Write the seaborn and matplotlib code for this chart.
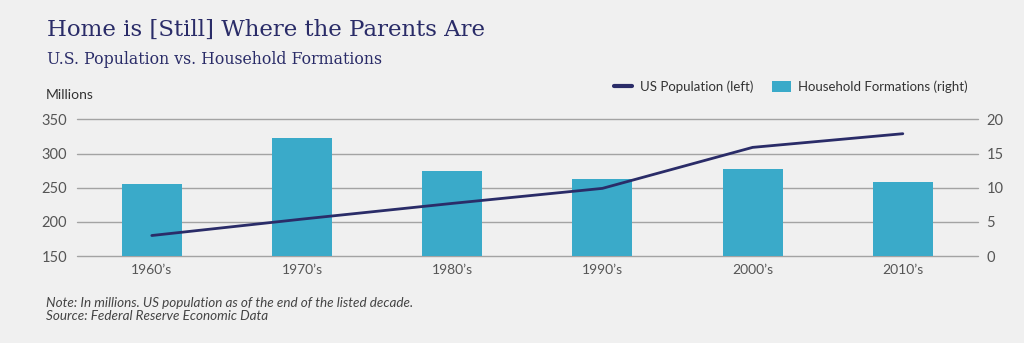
import numpy as np
import pandas as pd
import matplotlib
matplotlib.use("Agg")
import matplotlib.pyplot as plt
import seaborn as sns
from matplotlib.lines import Line2D
from matplotlib.patches import Patch

decades = ["1960\u2019s", "1970\u2019s", "1980\u2019s", "1990\u2019s", "2000\u2019s", "2010\u2019s"]
population = [180, 204, 227, 249, 309, 329]          # US population, millions (left)
households = [10.5, 17.3, 12.5, 11.3, 12.8, 10.8]    # household formations, millions (right)
left_ticks = [150, 200, 250, 300, 350]
right_ticks = [0, 5, 10, 15, 20]

BG = "#f0f0f0"
NAVY = "#2a2c68"
BAR = "#3aaac9"
GRID = "#a3a3a3"
TICK = "#555555"

sns.set_theme(style="white")
plt.rcParams["font.family"] = ["Lato", "DejaVu Sans"]

df = pd.DataFrame({"decade": decades, "pop": population, "hh": households})

fig = plt.figure(figsize=(10.24, 3.43), dpi=100, facecolor=BG)
ax_bar = fig.add_axes([0.0749, 0.2536, 0.8801, 0.3984])
ax_bar.set_facecolor(BG)
sns.barplot(data=df, x="decade", y="hh", color=BAR, width=0.4, saturation=1,
            linewidth=0, ax=ax_bar, zorder=2)
ax_bar.set_ylim(0, 20)
ax_bar.set_xlim(-0.5, len(decades) - 0.5)
ax_bar.set_yticks(right_ticks)
ax_bar.grid(axis="y", color=GRID, lw=1.0, zorder=0)
ax_bar.set_axisbelow(True)
ax_bar.set_xlabel("")
ax_bar.set_ylabel("")
for s in ax_bar.spines.values():
    s.set_visible(False)
for gl in ax_bar.get_ygridlines():
    gl.set_clip_on(False)

ax_line = ax_bar.twinx()
sns.lineplot(x=np.arange(len(decades)), y=population, color=NAVY, lw=2.0, ax=ax_line)
ax_line.set_ylim(150, 350)
ax_line.set_yticks(left_ticks)
ax_line.set_ylabel("")
for s in ax_line.spines.values():
    s.set_visible(False)
ax_line.grid(False)

# place axes: bars' scale on the right, population scale on the left
ax_bar.yaxis.tick_right()
ax_line.yaxis.tick_left()
ax_bar.tick_params(axis="x", length=0, labelsize=10, colors=TICK, pad=6)
ax_bar.tick_params(axis="y", length=0, labelsize=10.5, colors=TICK, pad=6)
ax_line.tick_params(axis="y", length=0, labelsize=10.5, colors=TICK, pad=7)

fig.text(0.0449, 0.722, "Millions", fontsize=10, color="#333333", va="center", ha="left")

fig.text(0.0459, 0.912, "Home is [Still] Where the Parents Are", fontsize=16.5,
         color=NAVY, family=["DejaVu Serif"], va="center", ha="left")
fig.text(0.0459, 0.826, "U.S. Population vs. Household Formations", fontsize=11.3,
         color=NAVY, family=["DejaVu Serif"], va="center", ha="left")

handles = [Line2D([0], [0], color=NAVY, lw=3),
           Patch(facecolor=BAR, edgecolor="none")]
fig.legend(handles, ["US Population (left)", "Household Formations (right)"],
           loc="center right", bbox_to_anchor=(0.957, 0.746), ncol=2, frameon=False,
           fontsize=9.5, labelcolor="#333333", handlelength=1.4, handleheight=0.9,
           columnspacing=1.4, handletextpad=0.6)

fig.text(0.0449, 0.117, "Note: In millions. US population as of the end of the listed decade.",
         fontsize=9.7, style="italic", color="#444444", va="center", ha="left")
fig.text(0.0449, 0.078, "Source: Federal Reserve Economic Data",
         fontsize=9.7, style="italic", color="#444444", va="center", ha="left")

fig.savefig("out.png", dpi=100, facecolor=BG)
